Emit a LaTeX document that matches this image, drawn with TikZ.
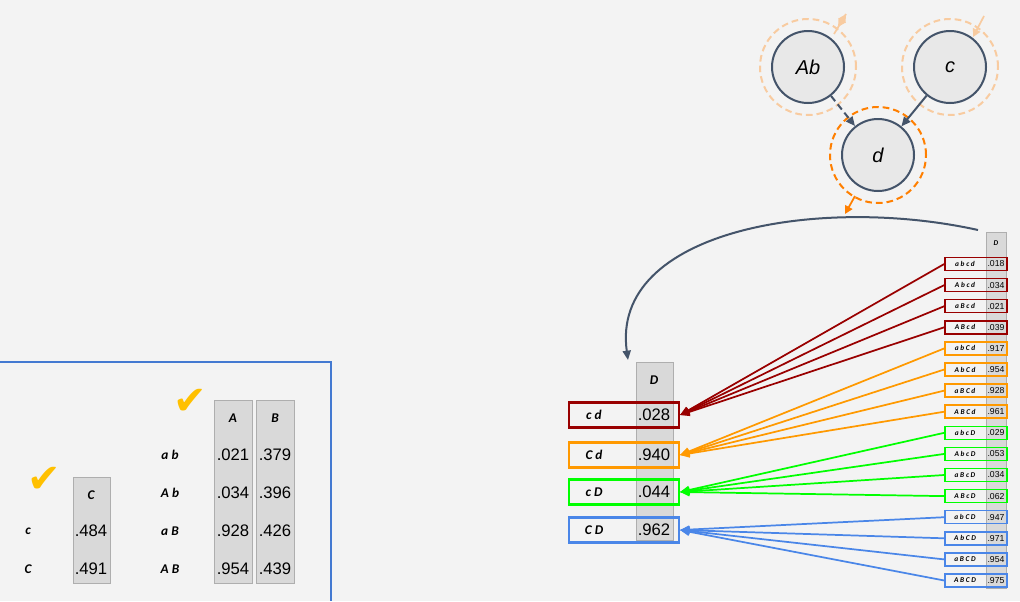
\documentclass[tikz,border=0pt]{standalone}
\usepackage{fontspec}
\setmainfont{Liberation Sans}
\newfontfamily\lbl{Carlito}[Scale=1]
\newfontfamily\sym{DejaVu Sans}
\usetikzlibrary{arrows.meta,calc}
\definecolor{bg}{HTML}{F3F3F3}
\definecolor{gcol}{HTML}{D9D9D9}
\definecolor{slate}{HTML}{44546A}
\definecolor{dred}{HTML}{990000}
\definecolor{orn}{HTML}{FF9900}
\definecolor{grn}{HTML}{00FF00}
\definecolor{blu}{HTML}{4A86E8}
\definecolor{lor}{HTML}{F8CBA0}
\definecolor{dor}{HTML}{FF7F00}
\definecolor{chk}{HTML}{FFC000}
\begin{document}
\begin{tikzpicture}[x=0.75pt,y=-0.75pt,
 lab/.style={font=\lbl\bfseries\itshape\fontsize{10}{10}\selectfont},
 num/.style={font=\fontsize{12.5}{12}\selectfont},
 slab/.style={font=\lbl\bfseries\itshape\fontsize{5.5}{6}\selectfont},
 snum/.style={font=\fontsize{6.5}{6}\selectfont},
 gcolb/.style={fill=gcol,draw=gcol!80!black,line width=0.4pt},
 circ/.style={circle,minimum size=72*0.75pt,fill=gcol!60!white,draw=slate,line width=1.5pt,font=\itshape\fontsize{15}{15}\selectfont},
 ring/.style={circle,minimum size=96*0.75pt,draw=#1,dashed,line width=1.5pt,dash pattern=on 5pt off 3pt},
 conn/.style={draw=slate,line width=1.5pt,-{Triangle[length=7pt,width=6pt]}},
 big/.style={line width=1.6pt,minimum width=110*0.75pt,minimum height=25*0.75pt,inner sep=0},
 sml/.style={line width=1.1pt,minimum width=62*0.75pt,minimum height=13*0.75pt,inner sep=0},
 feed/.style={line width=1.3pt,-{Triangle[length=7pt,width=6pt]}},
 chkm/.style={text=chk,font=\sym\fontsize{30}{30}\selectfont}]
\fill[bg] (0,0) rectangle (1020,601);
\useasboundingbox (0,0) rectangle (1020,601);
% left box
\draw[blu!90!black,line width=2.2pt] (0,362) -- (331,362) -- (331,601);
\fill[gcolb] (73,477) rectangle (110,583);
\fill[gcolb] (214,400) rectangle (252,583);
\fill[gcolb] (256,400) rectangle (294,583);
\node[chkm] (k1) at (44,480) {✔};
\node[chkm] (k2) at (190,402) {✔};
\node[lab] (hC) at (91,495) {C};
\node[lab] (rc) at (28,531) {c};
\node[lab] (rC) at (28,569) {C};
\node[num] (v1) at (91,531) {.484};
\node[num] (v2) at (91,569) {.491};
\node[lab] (hA) at (233,418) {A};
\node[lab] (hB) at (275,418) {B};
\foreach \l/\a/\b [count=\i] in {a b/.021/.379,A b/.034/.396,a B/.928/.426,A B/.954/.439}{
 \node[lab] (r\i) at (170,417+38*\i) {\l};
 \node[num] (a\i) at (233,417+38*\i) {\a};
 \node[num] (b\i) at (275,417+38*\i) {\b};
}
% middle table
\fill[gcolb] (636,362) rectangle (673,540);
\node[lab] (hD) at (654,380) {D};
\foreach \l/\v/\c/\y [count=\i] in {c d/.028/dred/415,C d/.940/orn/455,c D/.044/grn/492,C D/.962/blu/530}{
 \node[big,draw=\c] (m\i) at (624,\y) {};
 \node[lab] (ml\i) at (594,\y) {\l};
 \node[num] (mv\i) at (654,\y) {\v};
}
% right table
\fill[gcolb] (986,232) rectangle (1006,588);
\node[slab] (hD2) at (996,243) {D};
\foreach \l/\v/\c [count=\i] in {a b c d/.018/dred,A b c d/.034/dred,a B c d/.021/dred,A B c d/.039/dred,
 a b C d/.917/orn,A b C d/.954/orn,a B C d/.928/orn,A B C d/.961/orn,
 a b c D/.029/grn,A b c D/.053/grn,a B c D/.034/grn,A B c D/.062/grn,
 a b C D/.947/blu,A b C D/.971/blu,a B C D/.954/blu,A B C D/.975/blu}{
 \pgfmathsetmacro\yy{264+21.1*(\i-1)}
 \node[sml,draw=\c] (s\i) at (976,\yy) {};
 \node[slab] (sl\i) at (965,\yy) {\l};
 \node[snum] (sv\i) at (996,\yy) {\v};
 \pgfmathtruncatemacro\g{int((\i-1)/4)+1}
 \draw[feed,\c] (s\i.west) -- (m\g.east);
}
% curved arrow
\coordinate (cs) at (978,230);
\coordinate (ce) at (628,360);
\draw[conn] (cs) .. controls (820,195) and (610,230) .. (ce);
% nodes
\node[circ] (Ab) at (808,67) {Ab};
\node[circ] (c) at (950,67) {c};
\node[circ] (d) at (878,155) {d};
\node[ring=lor] (rAb) at (Ab) {};
\node[ring=lor] (rc) at (c) {};
\node[ring=dor] (rd) at (d) {};
\draw[conn,dashed,dash pattern=on 5pt off 3pt] (Ab) -- (d);
\draw[conn] (c) -- (d);
\coordinate (a1) at (846,14); \coordinate (a2) at (834,34);
\coordinate (a3) at (838,27);
\draw[lor,line width=1.3pt,-{Triangle[length=6pt,width=6pt]}] (a2) -- (a1);
\draw[lor,line width=1.3pt,-{Triangle[length=6pt,width=6pt]}] (a1) -- (a3);
\coordinate (c1) at (984,16); \coordinate (c2) at (973,37);
\draw[lor,line width=1.3pt,-{Triangle[length=6pt,width=6pt]}] (c1) -- (c2);
\coordinate (d1) at (855,196); \coordinate (d2) at (845,214);
\draw[dor,line width=1.3pt,-{Triangle[length=6pt,width=6pt]}] (d1) -- (d2);
\end{tikzpicture}
\end{document}
